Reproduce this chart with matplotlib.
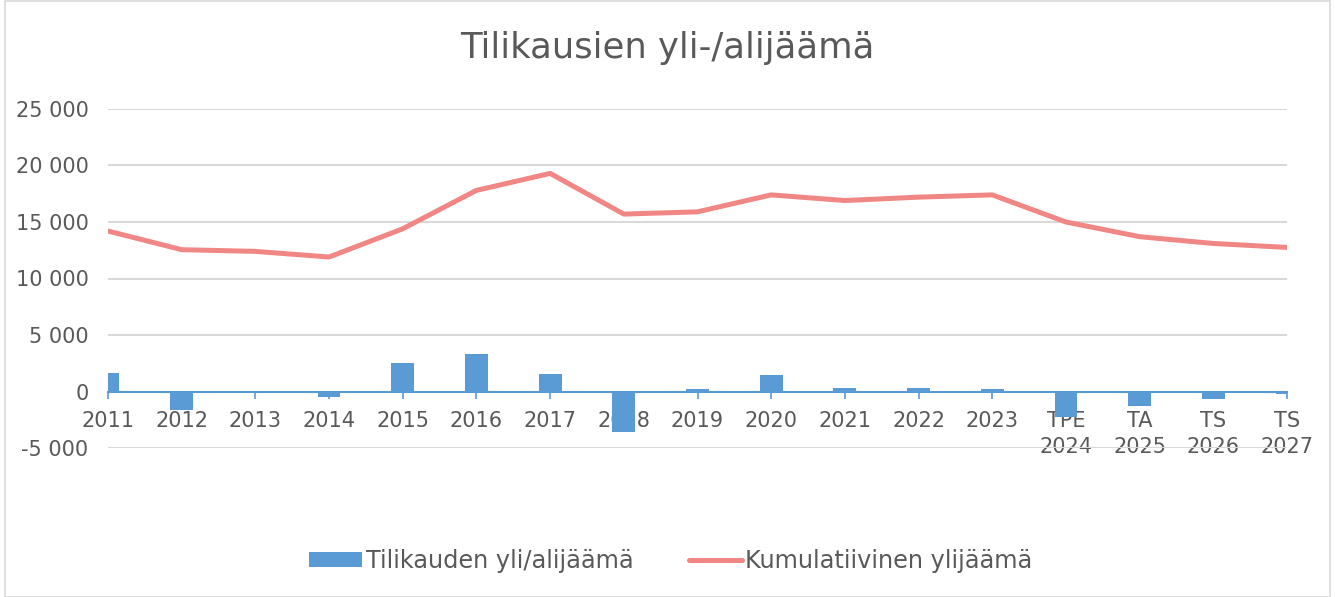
import matplotlib
matplotlib.use("Agg")
import matplotlib.pyplot as plt
from matplotlib.patches import Rectangle

categories = ["2011", "2012", "2013", "2014", "2015", "2016", "2017", "2018", "2019",
              "2020", "2021", "2022", "2023", "TPE\n2024", "TA\n2025", "TS\n2026", "TS\n2027"]
annual = [1620, -1600, -150, -500, 2540, 3360, 1570, -3600, 200,
          1480, 290, 350, 180, -2270, -1300, -650, -200]
cumulative = [14200, 12550, 12400, 11900, 14400, 17800, 19300, 15700, 15900,
              17400, 16900, 17200, 17400, 15000, 13700, 13100, 12750]
yticks = [-5000, 0, 5000, 10000, 15000, 20000, 25000]
ytick_labels = ["-5 000", "0", "5 000", "10 000", "15 000", "20 000", "25 000"]

title = "Tilikausien yli-/alijäämä"
bar_label = "Tilikauden yli/alijäämä"
line_label = "Kumulatiivinen ylijäämä"

BLUE = "#5B9BD5"
RED = "#F08784"
TXT = "#595959"
GRID = "#D9D9D9"

plt.rcParams['font.family'] = ['DejaVu Sans']

W, H = 1335, 597
fig = plt.figure(figsize=(W / 100, H / 100), dpi=100)
ax = fig.add_axes([108 / W, (H - 448) / H, (1287 - 108) / W, (448 - 109) / H])

x = list(range(len(categories)))
bars = ax.bar(x, annual, width=0.31, color=BLUE, label=bar_label, zorder=2)
line, = ax.plot(x, cumulative, color=RED, linewidth=3.6, label=line_label, zorder=3,
                solid_capstyle='round')

ax.set_xlim(0, len(categories) - 1)
ax.set_ylim(-5000, 25000)
ax.set_yticks(yticks)
ax.set_yticklabels(ytick_labels)
ax.set_axisbelow(True)
ax.yaxis.grid(True, color=GRID, linewidth=1.5)

for s in ["top", "right", "left"]:
    ax.spines[s].set_visible(False)
ax.spines["bottom"].set_position(("data", 0))
ax.spines["bottom"].set_color(BLUE)
ax.spines["bottom"].set_linewidth(1.5)
ax.spines["bottom"].set_zorder(1.5)

ax.set_xticks(x)
ax.set_xticklabels(categories, linespacing=1.35)
ax.tick_params(axis='x', direction='out', length=5, width=1.2, color=BLUE,
               labelcolor=TXT, labelsize=15, pad=9)
ax.tick_params(axis='y', length=0, labelcolor=TXT, labelsize=15, pad=14)
for lbl in ax.get_xticklabels():
    lbl.set_verticalalignment('top')

fig.text(0.5, (H - 48) / H, title, ha='center', va='center', fontsize=25.5, color=TXT)

leg = fig.legend([bars, line], [bar_label, line_label], loc='center',
                 bbox_to_anchor=(671 / W, (H - 561) / H), ncol=2,
                 frameon=False, fontsize=17.3, handlelength=2.2, handleheight=0.55,
                 handletextpad=0.15, columnspacing=2.3, labelcolor=TXT)

fig.patches.append(Rectangle((5 / W, 0), (1330 - 5) / W, (H - 1) / H, transform=fig.transFigure,
                             fill=False, edgecolor=GRID, linewidth=1.2))

fig.savefig("out.png", dpi=100)
